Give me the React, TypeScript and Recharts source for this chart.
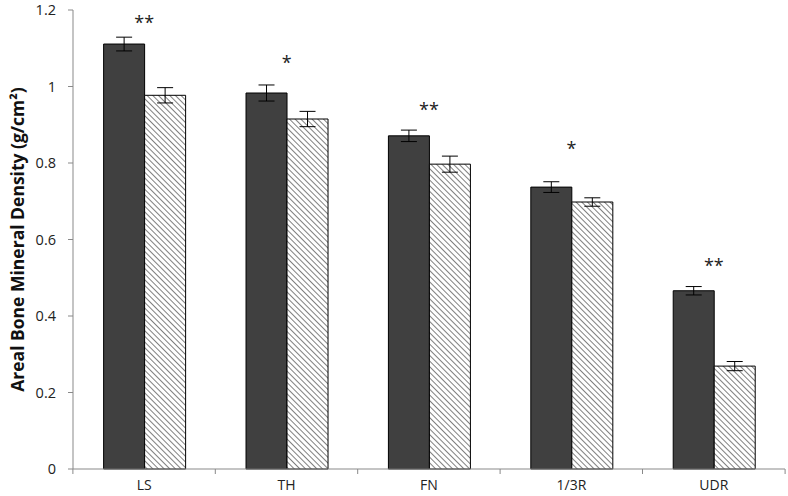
import React from 'react';
import { XAxis, YAxis, ErrorBar, Bar, Scatter, ComposedChart } from 'recharts';

const sites = ['LS', 'TH', 'FN', '1/3R', 'UDR'];
const groupA = [1.111, 0.983, 0.871, 0.737, 0.466];
const groupAErr = [0.018, 0.021, 0.015, 0.014, 0.011];
const groupB = [0.977, 0.915, 0.797, 0.698, 0.269];
const groupBErr = [0.02, 0.02, 0.021, 0.011, 0.012];
const stars = ['**', '*', '**', '*', '**'];
const starLevel = [1.175, 1.07, 0.946, 0.845, 0.539];
const yTicks = [0, 0.2, 0.4, 0.6, 0.8, 1, 1.2];

const data = sites.map((site, i) => ({
    site,
    a: groupA[i],
    aErr: groupAErr[i],
    b: groupB[i],
    bErr: groupBErr[i],
    star: stars[i],
    starY: starLevel[i],
}));

const FONT = '"Open Sans", "Liberation Sans", sans-serif';
const AXIS = '#898989';

// category labels in the middle, small ticks on the category borders
const XTick = (props: any) => {
    const { x, y, payload, index } = props;
    const half = 71.3;
    return (
        <g>
            <line x1={x - half} y1={y - 8} x2={x - half} y2={y - 3} stroke={AXIS} />
            {index === sites.length - 1 && (
                <line x1={x + half} y1={y - 8} x2={x + half} y2={y - 3} stroke={AXIS} />
            )}
            <text x={x} y={y + 13} textAnchor="middle" fontFamily={FONT} fontSize={14} fill="#222">
                {payload.value}
            </text>
        </g>
    );
};

const StarShape = (props: any) => {
    const { cx, cy, payload } = props;
    return (
        <text x={cx} y={cy + 9} textAnchor="middle" fontFamily={FONT} fontSize={18} fill="#222">
            {payload.star}
        </text>
    );
};

const App: React.FC = () => {
    return (
        <div style={{ position: 'absolute', left: 0, top: 0, background: '#fff' }}>
            <ComposedChart
                width={788}
                height={496}
                data={data}
                margin={{ top: 10, right: 3, left: 0, bottom: 0 }}
                barCategoryGap="21.5%"
                barGap={0}
            >
                <defs>
                    <pattern id="hatch" patternUnits="userSpaceOnUse" width="4" height="4" patternTransform="rotate(-45)">
                        <rect width="4" height="4" fill="#fff" />
                        <line x1="0" y1="0" x2="0" y2="4" stroke="#555" strokeWidth="1.5" />
                    </pattern>
                </defs>
                <XAxis
                    dataKey="site"
                    height={27}
                    stroke={AXIS}
                    tickLine={false}
                    tick={<XTick />}
                    interval={0}
                />
                <YAxis
                    width={73}
                    domain={[0, 1.2]}
                    ticks={yTicks}
                    stroke={AXIS}
                    tickSize={5}
                    tickMargin={12}
                    tick={{ fontFamily: FONT, fontSize: 14.5, fill: '#222' }}
                    tickFormatter={(v: number) => String(v)}
                    label={{
                        value: 'Areal Bone Mineral Density (g/cm²)',
                        angle: -90,
                        position: 'insideLeft',
                        offset: 18,
                        style: { fontFamily: FONT, fontSize: 17.5, fontWeight: 700, fill: '#111', textAnchor: 'middle' },
                    }}
                />
                <Bar dataKey="a" fill="#404040" stroke="#000" strokeWidth={1} isAnimationActive={false}>
                    <ErrorBar dataKey="aErr" width={8} stroke="#000" strokeWidth={1} />
                </Bar>
                <Bar dataKey="b" fill="url(#hatch)" stroke="#000" strokeWidth={1} isAnimationActive={false}>
                    <ErrorBar dataKey="bErr" width={8} stroke="#000" strokeWidth={1} />
                </Bar>
                <Scatter dataKey="starY" shape={<StarShape />} isAnimationActive={false} />
            </ComposedChart>
        </div>
    );
};

export default App;
